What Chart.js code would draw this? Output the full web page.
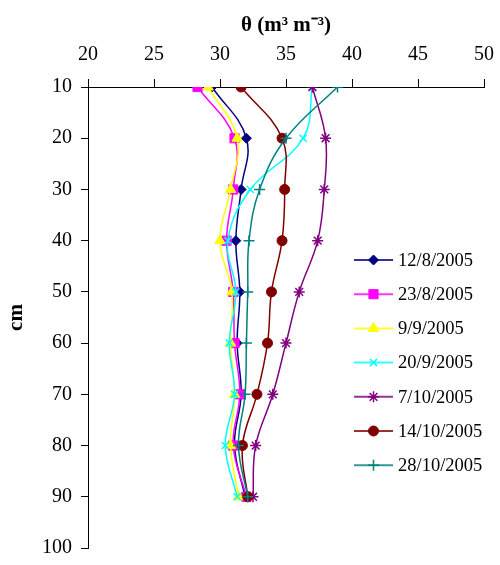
<!DOCTYPE html>
<html>
<head>
<meta charset="utf-8">
<script src="https://cdn.jsdelivr.net/npm/chart.js@4/dist/chart.umd.min.js"></script>
<style>
  html, body { margin: 0; padding: 0; background: #fff; }
  #wrap { width: 500px; height: 565px; }
</style>
</head>
<body>
<div id="wrap"><canvas id="profile" width="500" height="565"></canvas></div>
<script>
// soil moisture profiles, theta vs depth
const depths = [10, 20, 30, 40, 50, 60, 70, 80, 90];
const dates = ['12/8/2005', '23/8/2005', '9/9/2005', '20/9/2005', '7/10/2005', '14/10/2005', '28/10/2005'];
const theta_12_8 = [29.4, 32.0, 31.6, 31.2, 31.5, 31.3, 31.6, 31.1, 31.9];
const theta_23_8 = [28.3, 31.1, 31.0, 30.5, 31.0, 31.1, 31.5, 31.0, 32.0];
const theta_9_9 = [29.1, 31.3, 30.8, 30.0, 30.9, 30.8, 31.1, 30.8, 31.4];
const theta_20_9 = [37.0, 36.3, 32.3, 30.6, 31.2, 30.7, 31.1, 30.4, 31.3];
const theta_7_10 = [37.0, 38.0, 37.9, 37.4, 36.0, 35.0, 34.0, 32.7, 32.5];
const theta_14_10 = [31.6, 34.7, 34.9, 34.7, 33.9, 33.6, 32.8, 31.7, 32.1];
const theta_28_10 = [38.9, 35.0, 33.0, 32.2, 32.1, 32.0, 31.9, 31.4, 32.1];
const xTicks = [20, 25, 30, 35, 40, 45, 50];
const yTicks = [10, 20, 30, 40, 50, 60, 70, 80, 90, 100];

const series = [theta_12_8, theta_23_8, theta_9_9, theta_20_9, theta_7_10, theta_14_10, theta_28_10];
const colors = ['#000080', '#ff00ff', '#ffff00', '#00ffff', '#800080', '#800000', '#008080'];
const markers = ['rectRot', 'rect', 'triangle', 'crossRot', 'star', 'circle', 'cross'];
const markerSize = [5, 6.5, 6, 5, 5.5, 5, 5.5];

const FONT = '"Liberation Serif", "Times New Roman", serif';

const datasets = series.map((vals, i) => ({
  label: dates[i],
  data: vals.map((v, k) => ({ x: v, y: depths[k] })),
  showLine: true,
  borderColor: colors[i],
  backgroundColor: colors[i],
  borderWidth: 1.5,
  pointStyle: markers[i],
  pointRadius: markerSize[i],
  pointBorderColor: colors[i],
  pointBackgroundColor: colors[i],
  pointBorderWidth: (markers[i] === 'cross' || markers[i] === 'crossRot' || markers[i] === 'star') ? 1.5 : 1,
  tension: 0.4,
  order: series.length - i  // later dates drawn on top
}));

// legend inside the plot: short line with the marker in the middle
const sideLegend = {
  id: 'sideLegend',
  afterDraw(c) {
    const ctx = c.ctx;
    const x0 = 354, x1 = 393, top = 260, step = 34.2;
    ctx.save();
    c.data.datasets.forEach((ds, i) => {
      const y = top + i * step;
      ctx.strokeStyle = ds.borderColor;
      ctx.globalAlpha = 0.8;
      ctx.lineWidth = 2;
      ctx.beginPath();
      ctx.moveTo(x0, y);
      ctx.lineTo(x1, y);
      ctx.stroke();
      ctx.globalAlpha = 1;
      ctx.fillStyle = ds.borderColor;
      ctx.lineWidth = ds.pointBorderWidth;
      Chart.helpers.drawPoint(ctx, {
        pointStyle: ds.pointStyle,
        radius: ds.pointRadius,
        rotation: 0,
        borderWidth: ds.pointBorderWidth
      }, (x0 + x1) / 2, y);
      ctx.fillStyle = '#000';
      ctx.font = '18.5px ' + FONT;
      ctx.textAlign = 'left';
      ctx.textBaseline = 'middle';
      ctx.fillText(ds.label, x1 + 5, y + 1);
    });
    ctx.restore();
  }
};

const chart = new Chart(document.getElementById('profile'), {
  type: 'scatter',
  data: { datasets },
  options: {
    responsive: false,
    animation: false,
    layout: { padding: { top: 0, right: 16, bottom: 17, left: 4 } },
    plugins: { legend: { display: false }, tooltip: { enabled: false } },
    scales: {
      x: {
        type: 'linear',
        position: 'top',
        min: 20,
        max: 50,
        afterBuildTicks: (s) => { s.ticks = xTicks.map(v => ({ value: v })); },
        afterFit: (s) => { s.height = 87; s.paddingLeft = 0; s.paddingRight = 0; },
        border: { display: true, color: '#000', width: 1 },
        grid: { drawOnChartArea: false, drawTicks: true, tickLength: 8, color: '#000' },
        ticks: { color: '#000', font: { family: FONT, size: 20 }, padding: 12, maxRotation: 0 },
        title: {
          display: true,
          text: 'θ (m³ m⁻³)',
          color: '#000',
          font: { family: FONT, size: 21, weight: 'bold' },
          padding: { top: 13, bottom: 0 }
        }
      },
      y: {
        type: 'linear',
        reverse: true,
        min: 10,
        max: 100,
        afterBuildTicks: (s) => { s.ticks = yTicks.map(v => ({ value: v })); },
        afterFit: (s) => { s.width = 84; s.paddingTop = 0; s.paddingBottom = 0; },
        border: { display: true, color: '#000', width: 1 },
        grid: { drawOnChartArea: false, drawTicks: true, tickLength: 7, color: '#000' },
        ticks: { color: '#000', font: { family: FONT, size: 20 }, padding: 9 },
        title: {
          display: true,
          text: 'cm',
          color: '#000',
          font: { family: FONT, size: 21, weight: 'bold' },
          padding: 0
        }
      }
    }
  },
  plugins: [sideLegend]
});
</script>
</body>
</html>
